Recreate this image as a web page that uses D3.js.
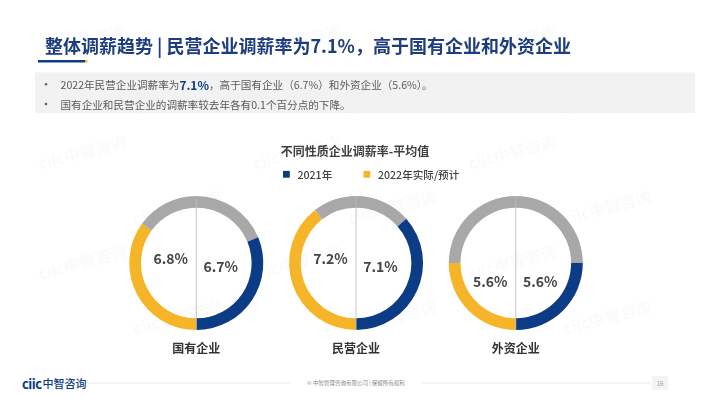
<!DOCTYPE html>
<html><head><meta charset="utf-8">
<script src="https://cdn.jsdelivr.net/npm/d3@7"></script>
<style>
body{margin:0;background:#fff;}
svg{display:block;font-family:"Noto Sans CJK SC","Noto Sans",sans-serif;}
</style>
</head><body>
<svg id="c" width="710" height="399"></svg>
<script>
// ---------- data ----------
const categories = ["国有企业", "民营企业", "外资企业"];
const seriesNames = ["2021年", "2022年实际/预计"];
const navyValues = [6.7, 7.1, 5.6];     // labels on the navy (right) half
const yellowValues = [6.8, 7.2, 5.6];   // labels on the yellow (left) half
const navyShare = [0.625, 0.73, 0.5];   // share of the right half-ring drawn navy
const yellowShare = [0.70, 0.79, 0.5];  // share of the left half-ring drawn yellow
const titleText = "整体调薪趋势 | 民营企业调薪率为7.1%，高于国有企业和外资企业";
const chartTitle = "不同性质企业调薪率-平均值";
const bullet1 = [["2022年民营企业调薪率为", false], ["7.1%", true], ["，高于国有企业（6.7%）和外资企业（5.6%）。", false]];
const bullet2 = "国有企业和民营企业的调薪率较去年各有0.1个百分点的下降。";
const footerText = "© 中智管理咨询有限公司 | 保留所有权利";
const pageNo = "16";

// ---------- style ----------
const NAVY = "#0b3c85", YELLOW = "#f6b428", GRAY = "#a8a8a8", TITLE = "#1d3d7d";
const svg = d3.select("#c");

// faint watermarks (kept inside the page)
const wm = svg.append("g").attr("fill", "#000").attr("opacity", 0.022)
  .attr("font-weight", 700).attr("font-size", 16);
for (let r = 0; r < 6; r++) {
  for (let c = 0; c < 3; c++) {
    const x = 40 + c * 215 + (r % 2) * 95, y = 60 + r * 55;
    wm.append("text").attr("transform", `translate(${x},${y}) rotate(-15)`).text("ciic中智咨询");
  }
}

// title
svg.append("text").attr("x", 45).attr("y", 52.5).attr("fill", TITLE)
  .attr("font-size", 18).attr("font-weight", 700).text(titleText);
svg.append("rect").attr("x", 38).attr("y", 60).attr("width", 47).attr("height", 2.5).attr("fill", NAVY);
svg.append("rect").attr("x", 85).attr("y", 60).attr("width", 2.5).attr("height", 2.5).attr("fill", YELLOW);

// bullet box
svg.append("rect").attr("x", 35).attr("y", 72.5).attr("width", 660).attr("height", 40.5).attr("fill", "#f2f2f2");
const bl = svg.append("g").attr("font-size", 10.6).attr("fill", "#5a5a5a");
[84.3, 104].forEach(y => bl.append("circle").attr("cx", 46).attr("cy", y).attr("r", 1.3).attr("fill", "#666"));
const t1 = bl.append("text").attr("x", 60.5).attr("y", 84.3).attr("dominant-baseline", "central");
bullet1.forEach(([s, b]) => t1.append("tspan").text(s)
  .attr("font-weight", b ? 700 : 400).attr("fill", b ? NAVY : null).attr("font-size", b ? 12 : null));
bl.append("text").attr("x", 60.5).attr("y", 104).attr("dominant-baseline", "central").text(bullet2);

// chart title & legend
svg.append("text").attr("x", 355).attr("y", 150).attr("text-anchor", "middle").attr("dominant-baseline", "central")
  .attr("font-size", 12).attr("font-weight", 700).attr("fill", "#404040").text(chartTitle);
const legendX = d3.scalePoint().domain(seriesNames).range([283, 363.5]);
const leg = svg.append("g").selectAll("g").data(seriesNames).join("g")
  .attr("transform", d => `translate(${legendX(d)},174.3)`);
leg.append("rect").attr("x", 0).attr("y", -3.4).attr("width", 6.8).attr("height", 6.8)
  .attr("fill", (d, i) => i === 0 ? NAVY : YELLOW);
leg.append("text").attr("x", 14.5).attr("dominant-baseline", "central").attr("font-size", 10.6)
  .attr("font-weight", 500).attr("fill", "#404040").text(d => d);

// donuts
const x = d3.scalePoint().domain(categories).range([196.3, 515.8]);
const cy = 263, rO = 67, rI = 55.3;
const ang = d3.scaleLinear().domain([0, 1]).range([0, Math.PI]);
const arc = d3.arc().innerRadius(rI).outerRadius(rO);
const rows = categories.map((c, i) => ({ c, nv: navyValues[i], yv: yellowValues[i], ns: navyShare[i], ys: yellowShare[i] }));
const dg = svg.append("g").selectAll("g").data(rows).join("g")
  .attr("transform", d => `translate(${x(d.c)},${cy})`);
dg.append("path").attr("fill", GRAY).attr("d", d => arc({ startAngle: 0, endAngle: Math.PI - ang(d.ns) }));
dg.append("path").attr("fill", NAVY).attr("d", d => arc({ startAngle: Math.PI - ang(d.ns), endAngle: Math.PI }));
dg.append("path").attr("fill", YELLOW).attr("d", d => arc({ startAngle: Math.PI, endAngle: Math.PI + ang(d.ys) }));
dg.append("path").attr("fill", GRAY).attr("d", d => arc({ startAngle: Math.PI + ang(d.ys), endAngle: 2 * Math.PI }));
dg.append("line").attr("x1", 0).attr("x2", 0).attr("y1", -rO).attr("y2", rO)
  .attr("stroke", "#b5b5b5").attr("stroke-width", 0.8);
dg.append("text").attr("x", -25.5).attr("y", d => d.ys > 0.55 ? -5 : 17.5)
  .attr("text-anchor", "middle").attr("dominant-baseline", "central")
  .attr("font-size", 14).attr("font-weight", 600).attr("fill", "#454545").text(d => d.yv.toFixed(1) + "%");
dg.append("text").attr("x", 24.5).attr("y", d => d.ns > 0.55 ? 3 : 17.5)
  .attr("text-anchor", "middle").attr("dominant-baseline", "central")
  .attr("font-size", 14).attr("font-weight", 600).attr("fill", "#454545").text(d => d.nv.toFixed(1) + "%");
dg.append("text").attr("y", 84).attr("text-anchor", "middle").attr("dominant-baseline", "central")
  .attr("font-size", 12).attr("font-weight", 700).attr("fill", "#333").text(d => d.c);

// footer
const ft = svg.append("g");
ft.append("text").attr("x", 22).attr("y", 383).attr("dominant-baseline", "central")
  .attr("font-size", 13).attr("font-weight", 700).attr("fill", NAVY)
  .call(t => { t.append("tspan").text("ciic").attr("letter-spacing", -0.5); t.append("tspan").text("中智咨询").attr("font-size", 11).attr("font-weight", 500).attr("dx", 1); });
ft.append("line").attr("x1", 86).attr("x2", 290).attr("y1", 383).attr("y2", 383).attr("stroke", "#d8d8d8").attr("stroke-width", 0.6);
ft.append("line").attr("x1", 422).attr("x2", 650).attr("y1", 383).attr("y2", 383).attr("stroke", "#d8d8d8").attr("stroke-width", 0.6);
ft.append("text").attr("x", 356).attr("y", 383).attr("text-anchor", "middle").attr("dominant-baseline", "central")
  .attr("font-size", 5.5).attr("fill", "#888").text(footerText);
ft.append("rect").attr("x", 652).attr("y", 376).attr("width", 16).attr("height", 14).attr("fill", "#f4f4f4");
ft.append("text").attr("x", 660).attr("y", 383).attr("text-anchor", "middle").attr("dominant-baseline", "central")
  .attr("font-size", 6).attr("fill", "#999").text(pageNo);
</script>
</body></html>
